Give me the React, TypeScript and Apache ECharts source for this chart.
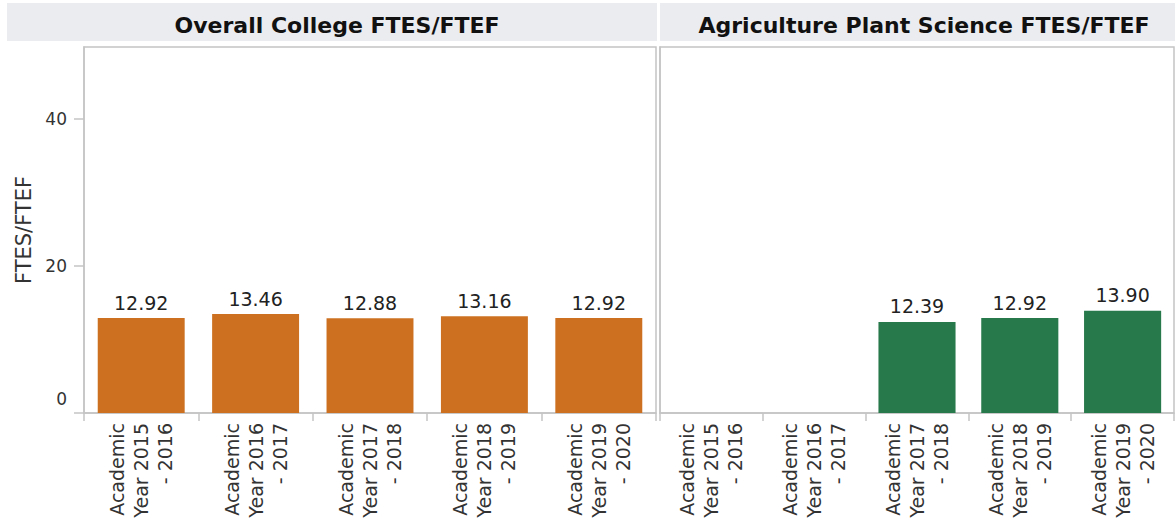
import React, { useEffect, useRef } from "react";
import * as echarts from "echarts";

const categories = [
  "Academic\nYear 2015\n- 2016",
  "Academic\nYear 2016\n- 2017",
  "Academic\nYear 2017\n- 2018",
  "Academic\nYear 2018\n- 2019",
  "Academic\nYear 2019\n- 2020",
];
const overallValues: (number | null)[] = [12.92, 13.46, 12.88, 13.16, 12.92];
const agriValues: (number | null)[] = [null, null, 12.39, 12.92, 13.9];
const yTicks = [0, 20, 40];
const panelTitles = ["Overall College FTES/FTEF", "Agriculture Plant Science FTES/FTEF"];
const yAxisName = "FTES/FTEF";

const FONT = "DejaVu Sans";
const BORDER = "#c4c4c4";

export default function App() {
  const ref = useRef<HTMLDivElement>(null);
  useEffect(() => {
    if (!ref.current) return;
    const chart = echarts.init(ref.current, undefined, { renderer: "svg" });
    const grids = [
      { left: 84, top: 47, width: 572, height: 366 },
      { left: 660, top: 47, width: 514, height: 366 },
    ];
    const xAxis = grids.map((_, i) => ({
      type: "category",
      gridIndex: i,
      data: categories,
      boundaryGap: true,
      axisLine: { lineStyle: { color: BORDER, width: 1.5 } },
      axisTick: { show: true, length: 8, lineStyle: { color: BORDER, width: 1.5 } },
      axisLabel: {
        rotate: 90,
        interval: 0,
        margin: 10,
        fontFamily: FONT,
        fontSize: 19,
        lineHeight: 24,
        color: "#333",
      },
    }));
    const yAxis = grids.map((_, i) => ({
      type: "value",
      gridIndex: i,
      min: 0,
      max: 49.8,
      interval: 20,
      name: i === 0 ? yAxisName : "",
      nameLocation: "middle",
      nameGap: 50,
      nameRotate: 90,
      nameTextStyle: { fontFamily: FONT, fontSize: 21, color: "#333" },
      splitLine: { show: false },
      axisLine: { show: true, lineStyle: { color: BORDER, width: 1.5 } },
      axisTick: {
        show: i === 0,
        length: 10,
        customValues: yTicks,
        lineStyle: { color: BORDER, width: 1.5 },
      },
      axisLabel: {
        show: i === 0,
        customValues: yTicks,
        margin: 17,
        fontFamily: FONT,
        fontSize: 17,
        color: "#333",
        formatter: (v: number) => (v === 0 ? "{z|0}" : "{n|" + v + "}"),
        rich: {
          z: { fontFamily: FONT, fontSize: 17, color: "#333", padding: [0, 0, 29, 0] },
          n: { fontFamily: FONT, fontSize: 17, color: "#333" },
        },
      },
    }));
    const labelCfg = {
      show: true,
      position: "top",
      distance: 6,
      fontFamily: FONT,
      fontSize: 19,
      color: "#222",
      formatter: (p: any) => (p.value == null ? "" : Number(p.value).toFixed(2)),
    };
    chart.setOption({
      animation: false,
      grid: grids.map((g) => ({
        ...g,
        show: true,
        borderColor: BORDER,
        borderWidth: 1.5,
        backgroundColor: "#fff",
        containLabel: false,
      })),
      title: [
        {
          text: panelTitles[0],
          left: 332,
          top: 9,
          textAlign: "center",
          textStyle: { fontFamily: FONT, fontWeight: "bold", fontSize: 22, color: "#111" },
        },
        {
          text: panelTitles[1],
          left: 919,
          top: 9,
          textAlign: "center",
          textStyle: { fontFamily: FONT, fontWeight: "bold", fontSize: 22, color: "#111" },
        },
      ],
      graphic: [
        { type: "rect", z: -10, shape: { x: 7, y: 3, width: 650, height: 38 }, style: { fill: "#ebecf0" } },
        { type: "rect", z: -10, shape: { x: 660, y: 3, width: 515, height: 38 }, style: { fill: "#ebecf0" } },
      ],
      xAxis,
      yAxis,
      series: [
        {
          type: "bar",
          xAxisIndex: 0,
          yAxisIndex: 0,
          data: overallValues,
          barCategoryGap: "24%",
          itemStyle: { color: "#cd7020" },
          label: labelCfg,
        },
        {
          type: "bar",
          xAxisIndex: 1,
          yAxisIndex: 1,
          data: agriValues,
          barCategoryGap: "25%",
          itemStyle: { color: "#27794b" },
          label: labelCfg,
        },
      ],
    });
    return () => chart.dispose();
  }, []);
  return (
    <div
      ref={ref}
      style={{ position: "absolute", left: 0, top: 0, width: 1175, height: 527 }}
    />
  );
}
